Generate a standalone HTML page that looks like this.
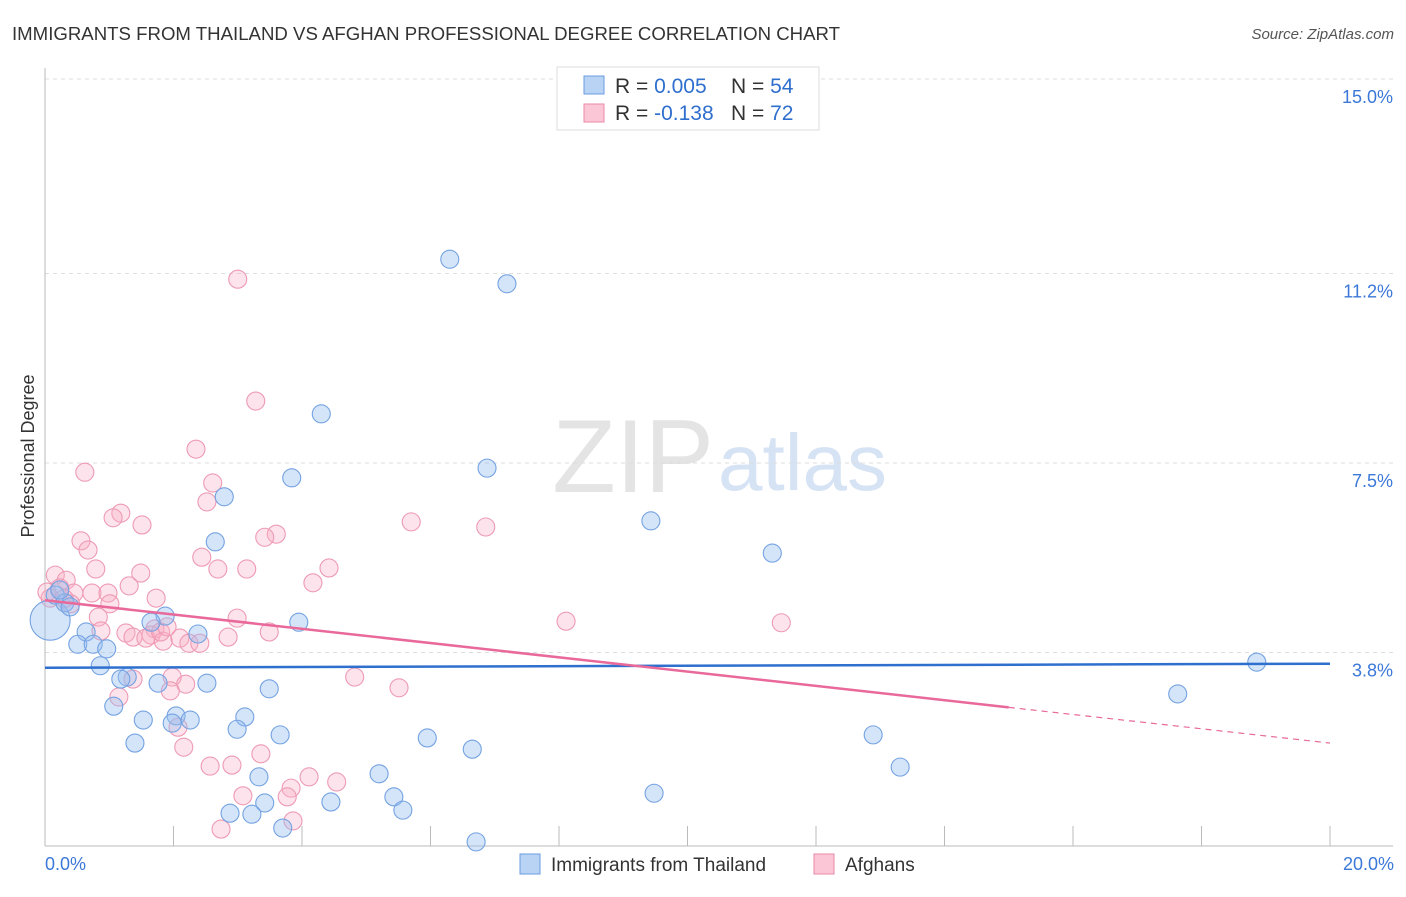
<!DOCTYPE html>
<html><head><meta charset="utf-8"><style>
body{margin:0;background:#fff;font-family:"Liberation Sans",sans-serif;}
svg text{font-family:"Liberation Sans",sans-serif;}
</style></head><body>
<svg id="chart" width="1406" height="892">
<text x="12" y="40" font-size="18" fill="#333" textLength="828" lengthAdjust="spacingAndGlyphs">IMMIGRANTS FROM THAILAND VS AFGHAN PROFESSIONAL DEGREE CORRELATION CHART</text>
<text x="1394" y="39" font-size="15" fill="#555" font-style="italic" text-anchor="end">Source: ZipAtlas.com</text>
<text x="714" y="492" font-size="104" fill="#e4e4e4" font-family="Liberation Serif" text-anchor="end">ZIP</text>
<text x="718" y="490" font-size="80" fill="#d6e3f4">atlas</text>
<text transform="translate(34,456) rotate(-90)" font-size="18" fill="#333" text-anchor="middle">Professional Degree</text>
<g id="grid"></g><g id="axes"></g><g id="pts"></g><g id="lines"></g>
<g>
<rect x="557" y="67" width="262" height="63" fill="#fff" stroke="#ddd"/>
<rect x="584" y="76" width="20" height="18" fill="#b9d3f5" stroke="#6a9be0"/>
<rect x="584" y="104" width="20" height="18" fill="#fbc6d5" stroke="#eb8aa8"/>
<text x="615" y="93" font-size="21" fill="#333">R = <tspan fill="#2f6fce">0.005</tspan></text>
<text x="731" y="93" font-size="21" fill="#333">N = <tspan fill="#2f6fce">54</tspan></text>
<text x="615" y="120" font-size="21" fill="#333">R = <tspan fill="#2f6fce">-0.138</tspan></text>
<text x="731" y="120" font-size="21" fill="#333">N = <tspan fill="#2f6fce">72</tspan></text>
</g>
<g>
<rect x="520" y="854" width="20" height="20" fill="#b9d3f5" stroke="#6a9be0"/>
<text x="551" y="871" font-size="19" fill="#333">Immigrants from Thailand</text>
<rect x="814" y="854" width="20" height="20" fill="#fbc6d5" stroke="#eb8aa8"/>
<text x="845" y="871" font-size="19" fill="#333">Afghans</text>
</g>
</svg>
<script>
const yTicks=[3.8,7.5,11.2,15.0];
const yTickLabels=["3.8%","7.5%","11.2%","15.0%"];
const xTickLabels=["0.0%","20.0%"];
const thaiX=[6.30,7.19,4.30,6.88,3.84,2.79,9.43,11.32,2.65,3.95,1.87,2.38,1.65,0.64,0.51,0.75,0.96,0.86,1.28,1.18,1.76,2.52,3.49,1.07,1.53,2.04,2.26,1.98,3.11,2.99,3.66,1.40,5.95,6.65,12.89,13.31,17.63,18.86,5.20,3.33,5.43,4.45,3.42,5.57,2.88,3.22,3.70,9.48,6.71,0.08,0.16,0.31,0.39,0.23];
const thaiY=[11.48,11.00,8.46,7.40,7.21,6.84,6.37,5.74,5.96,4.39,4.51,4.16,4.39,4.20,3.96,3.96,3.87,3.54,3.32,3.28,3.20,3.20,3.09,2.75,2.48,2.56,2.48,2.42,2.54,2.30,2.19,2.03,2.13,1.91,2.19,1.56,2.99,3.61,1.43,1.37,0.98,0.88,0.86,0.72,0.66,0.64,0.37,1.05,0.10,4.43,4.92,4.77,4.69,5.02];
const thaiBig=[49];
const afgX=[3.00,3.28,2.35,0.62,2.61,2.52,1.18,1.06,1.51,5.70,6.86,3.60,3.42,0.56,0.67,2.44,0.79,2.69,3.14,4.42,1.49,0.16,4.17,1.31,0.33,0.73,0.98,0.45,1.01,1.73,2.99,0.83,8.11,11.46,1.71,1.26,0.87,3.49,1.65,1.37,1.57,1.84,2.10,2.24,2.41,2.85,1.98,4.82,5.51,2.19,1.37,1.95,1.15,2.07,2.16,3.36,2.91,2.57,4.11,4.54,3.83,3.08,3.77,3.86,2.74,0.08,0.23,0.03,1.80,1.90,0.40,0.30];
const afgY=[11.09,8.71,7.77,7.32,7.11,6.74,6.52,6.43,6.29,6.35,6.25,6.11,6.05,5.98,5.80,5.66,5.43,5.43,5.43,5.45,5.35,5.31,5.16,5.10,5.21,4.96,4.96,4.96,4.75,4.86,4.47,4.49,4.41,4.38,4.26,4.18,4.22,4.20,4.14,4.10,4.08,4.02,4.08,3.98,3.98,4.10,3.32,3.32,3.11,3.18,3.28,3.05,2.93,2.34,1.95,1.82,1.60,1.58,1.37,1.27,1.15,1.00,0.98,0.51,0.35,4.86,5.06,4.98,4.20,4.30,4.75,4.85];
const thaiTrend=[3.50,3.58];
const afgTrend=[4.82,2.03];
const afgSolidEnd=15.0;
const X0=45,X1=1330,Y0=847,PPY=51.2;
const xs=v=>X0+v*(X1-X0)/20, ys=v=>Y0-v*PPY;
const NS="http://www.w3.org/2000/svg";
function mk(t,a,p){const e=document.createElementNS(NS,t);for(const k in a)e.setAttribute(k,a[k]);p.appendChild(e);return e;}
const grid=document.getElementById('grid'),axes=document.getElementById('axes'),pts=document.getElementById('pts'),lines=document.getElementById('lines');
yTicks.forEach((t,i)=>{const yy=t===15?79:ys(t);
const l=mk('line',{x1:X0,x2:1393,y1:yy,y2:yy,stroke:'#ddd','stroke-dasharray':'4,4'},grid);


const tx=mk('text',{x:1393,y:yy+24,'font-size':18,fill:'#3b78d8','text-anchor':'end'},axes);tx.textContent=yTickLabels[i];

});
const ax=mk('line',{x1:X0,x2:X0,y1:68,y2:846,stroke:'#bbb'},axes);


const bx=mk('line',{x1:X0,x2:1393,y1:846,y2:846,stroke:'#bbb'},axes);


for(let i=0;i<=10;i++){const xx=xs(i*2);const t=mk('line',{x1:xx,x2:xx,y1:826,y2:846,stroke:'#bbb'},axes);

}
[[0,'start',45],[20,'end',1394]].forEach((d,i)=>{const t=mk('text',{x:d[2],y:870,'font-size':18,fill:'#3b78d8','text-anchor':d[1]},axes);t.textContent=xTickLabels[i];

});
afgX.forEach((v,i)=>{const c=mk('circle',{cx:xs(v),cy:ys(afgY[i]),r:9,fill:'rgba(248,175,198,0.35)',stroke:'#ee9ab5','stroke-width':1.1},pts);

});
thaiX.forEach((v,i)=>{const big=thaiBig.includes(i);const c=mk('circle',{cx:xs(v),cy:ys(thaiY[i]),r:big?20:9,fill:'rgba(150,190,240,0.4)',stroke:'#74a2e2','stroke-width':1.1},pts);

});
const bl=mk('line',{x1:xs(0),x2:xs(20),y1:ys(thaiTrend[0]),y2:ys(thaiTrend[1]),stroke:'#2f6fce','stroke-width':2.5},lines);


const af=v=>afgTrend[0]+(afgTrend[1]-afgTrend[0])*v/20;
const pl=mk('line',{x1:xs(0),x2:xs(afgSolidEnd),y1:ys(af(0)),y2:ys(af(afgSolidEnd)),stroke:'#e8699a','stroke-width':2.5},lines);


const pd=mk('line',{x1:xs(afgSolidEnd),x2:xs(20),y1:ys(af(afgSolidEnd)),y2:ys(af(20)),stroke:'#e8699a','stroke-width':1.2,'stroke-dasharray':'6,5'},lines);


</script>
</body></html>
